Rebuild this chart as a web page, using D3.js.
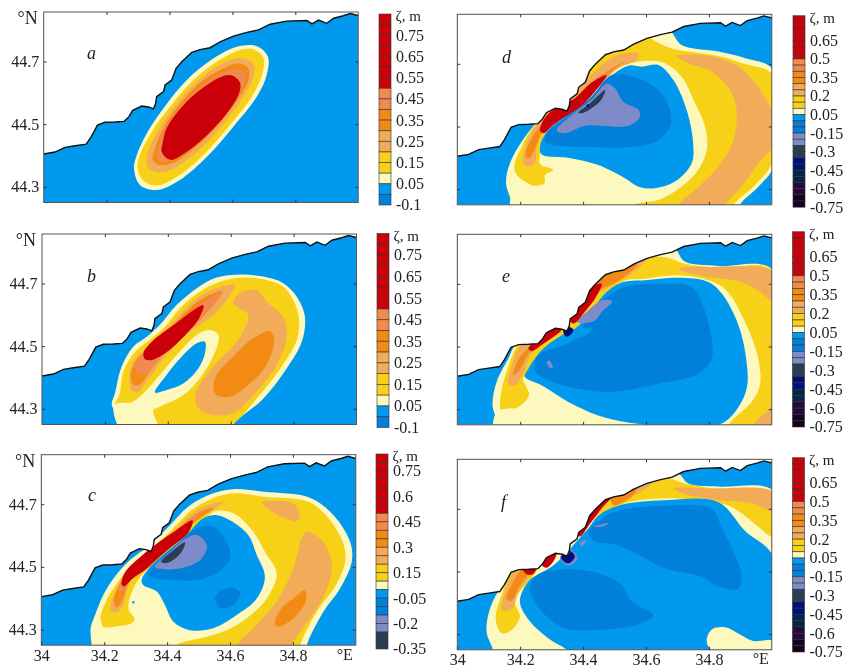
<!DOCTYPE html>
<html>
<head>
<meta charset="utf-8">
<script src="https://cdnjs.cloudflare.com/ajax/libs/d3/7.8.5/d3.min.js"></script>
<style>
html, body { margin: 0; padding: 0; background: #fff; }
svg { display: block; filter: blur(0.45px); font-family: "Liberation Serif", serif; fill: #222; }
</style>
</head>
<body>
<svg id="chart" width="850" height="668"></svg>
<script>
// shoreline, lon/lat (same in all six panels)
var coast = [[34.000,44.405],[34.036,44.411],[34.068,44.426],[34.100,44.431],[34.135,44.436],[34.150,44.458],[34.171,44.497],[34.195,44.506],[34.227,44.507],[34.256,44.509],[34.271,44.524],[34.283,44.544],[34.312,44.558],[34.333,44.555],[34.349,44.549],[34.356,44.566],[34.359,44.588],[34.381,44.604],[34.386,44.625],[34.407,44.641],[34.421,44.678],[34.439,44.699],[34.471,44.729],[34.497,44.738],[34.529,44.744],[34.561,44.763],[34.603,44.781],[34.646,44.793],[34.683,44.801],[34.720,44.819],[34.773,44.829],[34.837,44.831],[34.853,44.820],[34.874,44.832],[34.900,44.822],[34.922,44.838],[34.953,44.846],[34.975,44.853],[35.001,44.846]];

// each contour is [zeta of the band, lon/lat outline], painted in order
var contoursA = [
  [0.05, [[34.287,44.359],[34.296,44.402],[34.328,44.471],[34.381,44.551],[34.455,44.641],[34.540,44.710],[34.614,44.747],[34.678,44.749],[34.713,44.715],[34.709,44.657],[34.678,44.588],[34.603,44.492],[34.519,44.396],[34.433,44.322],[34.359,44.290],[34.306,44.306]]],
  [0.15, [[34.298,44.364],[34.306,44.402],[34.344,44.476],[34.402,44.556],[34.471,44.636],[34.550,44.699],[34.625,44.737],[34.672,44.737],[34.699,44.710],[34.694,44.657],[34.662,44.588],[34.593,44.498],[34.508,44.402],[34.423,44.332],[34.359,44.304],[34.315,44.322]]],
  [0.25, [[34.328,44.396],[34.359,44.471],[34.423,44.566],[34.487,44.636],[34.561,44.689],[34.625,44.710],[34.665,44.694],[34.667,44.652],[34.635,44.588],[34.561,44.487],[34.476,44.402],[34.402,44.354],[34.354,44.348],[34.330,44.364]]],
  [0.35, [[34.349,44.407],[34.381,44.487],[34.444,44.577],[34.508,44.641],[34.571,44.678],[34.619,44.694],[34.651,44.678],[34.651,44.641],[34.619,44.582],[34.550,44.492],[34.471,44.417],[34.407,44.375],[34.365,44.370],[34.347,44.386]]],
  [0.45, [[34.362,44.417],[34.386,44.487],[34.450,44.572],[34.513,44.630],[34.577,44.668],[34.619,44.676],[34.640,44.660],[34.640,44.636],[34.609,44.577],[34.540,44.492],[34.466,44.423],[34.407,44.386],[34.375,44.380],[34.359,44.396]]],
  [0.6, [[34.377,44.433],[34.391,44.487],[34.455,44.572],[34.519,44.625],[34.571,44.654],[34.603,44.654],[34.625,44.630],[34.619,44.593],[34.582,44.534],[34.519,44.465],[34.455,44.412],[34.407,44.386],[34.386,44.396],[34.374,44.417]]]
];

var contoursB = [
  [0.05, [[34.261,44.250],[34.222,44.312],[34.232,44.349],[34.253,44.434],[34.290,44.498],[34.333,44.530],[34.375,44.568],[34.428,44.631],[34.492,44.685],[34.555,44.719],[34.630,44.729],[34.704,44.722],[34.767,44.701],[34.810,44.658],[34.836,44.594],[34.826,44.514],[34.778,44.429],[34.704,44.333],[34.608,44.248],[34.608,44.230],[34.261,44.230]]],
  [0.15, [[34.246,44.344],[34.259,44.419],[34.296,44.482],[34.343,44.520],[34.386,44.557],[34.444,44.626],[34.502,44.674],[34.566,44.706],[34.640,44.719],[34.714,44.711],[34.767,44.690],[34.799,44.647],[34.817,44.589],[34.810,44.520],[34.762,44.435],[34.688,44.339],[34.603,44.250],[34.502,44.227],[34.370,44.227],[34.269,44.248],[34.232,44.312]]],
  [0.05, [[34.237,44.317],[34.285,44.321],[34.322,44.349],[34.365,44.397],[34.428,44.472],[34.492,44.536],[34.534,44.552],[34.561,44.536],[34.555,44.493],[34.513,44.413],[34.449,44.344],[34.375,44.307],[34.354,44.296],[34.367,44.250],[34.365,44.222],[34.259,44.222],[34.227,44.304]]],
  [-0.02, [[34.359,44.352],[34.396,44.408],[34.444,44.466],[34.492,44.509],[34.518,44.514],[34.518,44.477],[34.497,44.429],[34.449,44.381],[34.396,44.360]]],
  [0.25, [[34.278,44.387],[34.290,44.450],[34.343,44.504],[34.418,44.578],[34.492,44.653],[34.555,44.685],[34.614,44.695],[34.603,44.669],[34.545,44.599],[34.471,44.546],[34.396,44.472],[34.333,44.387],[34.301,44.352],[34.285,44.360]]],
  [0.35, [[34.282,44.403],[34.301,44.456],[34.354,44.504],[34.428,44.578],[34.502,44.647],[34.571,44.674],[34.545,44.631],[34.487,44.568],[34.418,44.509],[34.343,44.419],[34.312,44.378],[34.290,44.378]]],
  [0.45, [[34.296,44.440],[34.333,44.482],[34.396,44.541],[34.471,44.605],[34.524,44.647],[34.575,44.674],[34.555,44.647],[34.502,44.589],[34.439,44.530],[34.375,44.461],[34.333,44.413],[34.306,44.413]]],
  [0.6, [[34.323,44.480],[34.350,44.515],[34.415,44.565],[34.513,44.631],[34.500,44.590],[34.455,44.535],[34.395,44.480],[34.345,44.455],[34.326,44.460]]],
  [0.25, [[34.487,44.328],[34.492,44.360],[34.545,44.435],[34.619,44.514],[34.656,44.599],[34.608,44.637],[34.630,44.669],[34.683,44.679],[34.714,44.642],[34.767,44.594],[34.778,44.525],[34.746,44.440],[34.683,44.355],[34.608,44.286],[34.545,44.280],[34.502,44.296]]],
  [0.35, [[34.545,44.365],[34.555,44.408],[34.608,44.466],[34.672,44.525],[34.725,44.548],[34.738,44.520],[34.714,44.440],[34.656,44.376],[34.598,44.339],[34.555,44.344]]]
];

var contoursC = [
  [0.05, [[34.160,44.249],[34.157,44.304],[34.171,44.346],[34.197,44.410],[34.234,44.469],[34.282,44.522],[34.346,44.570],[34.409,44.633],[34.473,44.697],[34.547,44.735],[34.611,44.748],[34.706,44.740],[34.854,44.721],[34.929,44.665],[34.982,44.580],[34.987,44.516],[34.950,44.431],[34.897,44.357],[34.844,44.249],[34.844,44.224],[34.160,44.224]]],
  [0.15, [[34.190,44.325],[34.208,44.394],[34.245,44.453],[34.287,44.506],[34.340,44.548],[34.409,44.612],[34.478,44.681],[34.558,44.724],[34.621,44.735],[34.706,44.724],[34.849,44.708],[34.913,44.655],[34.960,44.575],[34.966,44.516],[34.934,44.437],[34.876,44.357],[34.823,44.249],[34.823,44.224],[34.293,44.224]]],
  [0.05, [[34.234,44.309],[34.287,44.320],[34.296,44.333],[34.277,44.367],[34.293,44.431],[34.324,44.479],[34.377,44.522],[34.441,44.580],[34.526,44.660],[34.558,44.679],[34.611,44.671],[34.674,44.612],[34.711,44.548],[34.748,44.479],[34.717,44.399],[34.653,44.336],[34.589,44.298],[34.526,44.277],[34.430,44.249],[34.430,44.224],[34.176,44.224],[34.176,44.298]]],
  [-0.02, [[34.319,44.458],[34.346,44.500],[34.399,44.548],[34.462,44.602],[34.515,44.655],[34.558,44.665],[34.600,44.649],[34.658,44.602],[34.685,44.538],[34.711,44.469],[34.685,44.399],[34.621,44.346],[34.547,44.304],[34.473,44.298],[34.420,44.325],[34.393,44.378],[34.367,44.421],[34.324,44.442]]],
  [-0.1, [[34.340,44.474],[34.377,44.522],[34.441,44.580],[34.494,44.623],[34.547,44.628],[34.589,44.580],[34.600,44.527],[34.563,44.484],[34.494,44.458],[34.420,44.458],[34.367,44.463]]],
  [-0.1, [[34.552,44.399],[34.573,44.426],[34.611,44.433],[34.632,44.415],[34.616,44.383],[34.573,44.367]]],
  [-0.2, [[34.361,44.500],[34.399,44.538],[34.452,44.586],[34.494,44.602],[34.526,44.570],[34.510,44.527],[34.462,44.500],[34.399,44.492]]],
  [-0.3, [[34.381,44.516],[34.414,44.548],[34.457,44.578],[34.446,44.548],[34.414,44.518],[34.388,44.512]]],
  [0.25, [[34.220,44.362],[34.240,44.431],[34.282,44.484],[34.346,44.543],[34.420,44.612],[34.494,44.681],[34.579,44.708],[34.547,44.681],[34.494,44.655],[34.430,44.607],[34.367,44.548],[34.314,44.495],[34.277,44.442],[34.261,44.378],[34.240,44.355]]],
  [0.35, [[34.231,44.389],[34.245,44.437],[34.287,44.490],[34.351,44.546],[34.420,44.607],[34.505,44.676],[34.547,44.687],[34.505,44.655],[34.441,44.607],[34.367,44.548],[34.308,44.495],[34.277,44.447],[34.255,44.389],[34.240,44.371]]],
  [0.45, [[34.242,44.429],[34.287,44.490],[34.356,44.550],[34.430,44.617],[34.505,44.671],[34.489,44.649],[34.430,44.607],[34.367,44.554],[34.308,44.500],[34.277,44.453],[34.259,44.421]]],
  [0.6, [[34.255,44.447],[34.268,44.485],[34.322,44.538],[34.375,44.580],[34.430,44.618],[34.481,44.648],[34.468,44.610],[34.415,44.565],[34.372,44.528],[34.330,44.490],[34.292,44.464],[34.262,44.438]]],
  [0.25, [[34.621,44.249],[34.674,44.304],[34.748,44.389],[34.801,44.495],[34.833,44.602],[34.849,44.612],[34.891,44.586],[34.923,44.516],[34.913,44.442],[34.876,44.367],[34.823,44.293],[34.796,44.249],[34.796,44.224],[34.621,44.224]]],
  [0.25, [[34.701,44.706],[34.738,44.710],[34.801,44.703],[34.820,44.676],[34.814,44.646],[34.770,44.657],[34.727,44.681]]],
  [0.35, [[34.743,44.325],[34.764,44.367],[34.801,44.399],[34.838,44.424],[34.842,44.394],[34.812,44.346],[34.770,44.314],[34.748,44.311]]],
  [-0.02, [[34.290,44.390],[34.296,44.390],[34.296,44.384],[34.290,44.384]]]
];

var contoursD = [
  [0.05, [[34.175,44.250],[34.155,44.319],[34.167,44.382],[34.205,44.452],[34.250,44.512],[34.300,44.580],[34.353,44.600],[34.395,44.650],[34.427,44.710],[34.491,44.760],[34.576,44.790],[34.629,44.800],[34.676,44.805],[34.713,44.760],[34.830,44.739],[34.915,44.718],[35.005,44.680],[35.005,44.372],[34.957,44.308],[34.899,44.250],[34.899,44.223],[34.175,44.223]]],
  [0.15, [[34.186,44.350],[34.205,44.436],[34.258,44.520],[34.321,44.585],[34.358,44.600],[34.395,44.650],[34.427,44.705],[34.491,44.755],[34.576,44.785],[34.600,44.790],[34.629,44.772],[34.682,44.749],[34.830,44.725],[34.915,44.699],[35.005,44.664],[35.005,44.393],[34.947,44.313],[34.878,44.248],[34.878,44.223],[34.576,44.223]]],
  [0.05, [[34.305,44.361],[34.263,44.380],[34.263,44.409],[34.279,44.478],[34.332,44.531],[34.406,44.585],[34.470,44.654],[34.533,44.696],[34.597,44.709],[34.660,44.702],[34.713,44.659],[34.756,44.574],[34.788,44.499],[34.793,44.425],[34.766,44.361],[34.713,44.308],[34.639,44.265],[34.560,44.248],[34.560,44.223],[34.175,44.223],[34.181,44.308],[34.199,44.324],[34.236,44.311],[34.277,44.319],[34.279,44.345]]],
  [-0.02, [[34.268,44.411],[34.263,44.436],[34.284,44.483],[34.342,44.531],[34.417,44.585],[34.480,44.654],[34.544,44.694],[34.586,44.691],[34.639,44.696],[34.687,44.648],[34.729,44.553],[34.750,44.446],[34.745,44.382],[34.692,44.324],[34.629,44.303],[34.576,44.308],[34.533,44.335],[34.448,44.377],[34.364,44.398]]],
  [-0.1, [[34.279,44.452],[34.289,44.483],[34.353,44.531],[34.427,44.595],[34.491,44.664],[34.576,44.654],[34.639,44.616],[34.676,44.553],[34.676,44.499],[34.629,44.451],[34.533,44.433],[34.406,44.435],[34.311,44.439]]],
  [-0.2, [[34.316,44.489],[34.364,44.537],[34.427,44.585],[34.475,44.636],[34.501,44.622],[34.528,44.579],[34.576,44.553],[34.581,44.531],[34.544,44.502],[34.406,44.502],[34.353,44.481],[34.326,44.480]]],
  [-0.3, [[34.385,44.544],[34.422,44.574],[34.470,44.616],[34.459,44.587],[34.427,44.558],[34.395,44.542]]],
  [-0.4, [[34.410,44.566],[34.416,44.572],[34.420,44.566],[34.414,44.562]]],
  [0.25, [[34.210,44.382],[34.220,44.446],[34.263,44.520],[34.332,44.570],[34.369,44.600],[34.427,44.665],[34.501,44.725],[34.576,44.733],[34.570,44.712],[34.512,44.686],[34.448,44.627],[34.395,44.574],[34.321,44.529],[34.273,44.483],[34.252,44.430],[34.247,44.382],[34.226,44.372]]],
  [0.35, [[34.217,44.409],[34.231,44.451],[34.268,44.505],[34.332,44.555],[34.374,44.590],[34.438,44.650],[34.533,44.707],[34.491,44.675],[34.438,44.622],[34.379,44.569],[34.321,44.531],[34.273,44.487],[34.247,44.430],[34.228,44.398]]],
  [0.45, [[34.261,44.495],[34.321,44.555],[34.374,44.590],[34.438,44.650],[34.485,44.675],[34.438,44.616],[34.374,44.563],[34.316,44.529],[34.273,44.487]]],
  [0.6, [[34.263,44.487],[34.284,44.535],[34.337,44.570],[34.374,44.590],[34.427,44.640],[34.475,44.664],[34.438,44.612],[34.390,44.562],[34.342,44.530],[34.305,44.505],[34.273,44.478]]],
  [0.25, [[34.697,44.725],[34.809,44.723],[34.899,44.688],[34.952,44.632],[34.989,44.574],[35.005,44.542],[35.005,44.441],[34.957,44.382],[34.904,44.308],[34.851,44.248],[34.851,44.223],[34.697,44.223],[34.703,44.250],[34.756,44.297],[34.830,44.372],[34.878,44.457],[34.888,44.553],[34.867,44.616],[34.809,44.675],[34.735,44.702]]]
];

var contoursE = [
  [0.05, [[34.130,44.248],[34.112,44.312],[34.125,44.387],[34.162,44.461],[34.190,44.510],[34.258,44.525],[34.316,44.585],[34.353,44.600],[34.406,44.680],[34.459,44.750],[34.554,44.785],[34.660,44.805],[34.690,44.815],[34.722,44.772],[34.830,44.757],[35.005,44.743],[35.005,44.206],[34.130,44.206]]],
  [0.15, [[34.139,44.349],[34.157,44.419],[34.199,44.510],[34.258,44.525],[34.316,44.575],[34.353,44.590],[34.406,44.670],[34.459,44.740],[34.554,44.775],[34.660,44.785],[34.724,44.764],[34.830,44.751],[35.005,44.740],[35.005,44.206],[34.152,44.206],[34.136,44.302]]],
  [0.05, [[34.125,44.291],[34.162,44.302],[34.189,44.304],[34.228,44.344],[34.210,44.399],[34.242,44.419],[34.406,44.568],[34.523,44.706],[34.597,44.716],[34.703,44.727],[34.798,44.711],[34.856,44.679],[34.915,44.578],[34.957,44.461],[34.962,44.376],[34.936,44.323],[34.862,44.248],[34.862,44.206],[34.125,44.206]]],
  [-0.02, [[34.215,44.403],[34.226,44.429],[34.268,44.488],[34.332,44.536],[34.374,44.557],[34.417,44.599],[34.470,44.669],[34.523,44.704],[34.597,44.711],[34.703,44.719],[34.798,44.706],[34.841,44.669],[34.894,44.568],[34.920,44.450],[34.920,44.365],[34.883,44.291],[34.830,44.250],[34.639,44.248],[34.533,44.259],[34.448,44.280],[34.353,44.323],[34.268,44.376]]],
  [-0.1, [[34.247,44.424],[34.258,44.472],[34.369,44.520],[34.427,44.610],[34.491,44.669],[34.533,44.690],[34.639,44.700],[34.745,44.690],[34.777,44.642],[34.809,44.525],[34.809,44.461],[34.766,44.413],[34.639,44.381],[34.491,44.355],[34.385,44.365],[34.289,44.392]]],
  [-0.02, [[34.358,44.525],[34.390,44.555],[34.427,44.557],[34.417,44.541],[34.374,44.523]]],
  [-0.2, [[34.379,44.578],[34.417,44.615],[34.459,44.647],[34.493,44.644],[34.459,44.610],[34.438,44.583],[34.395,44.575]]],
  [-0.2, [[34.284,44.450],[34.292,44.456],[34.304,44.431],[34.296,44.431]]],
  [-0.4, [[34.337,44.548],[34.353,44.562],[34.369,44.554],[34.364,44.541],[34.348,44.531]]],
  [0.25, [[34.162,44.381],[34.171,44.429],[34.199,44.500],[34.250,44.515],[34.225,44.456],[34.210,44.413],[34.183,44.376]]],
  [0.35, [[34.178,44.408],[34.199,44.466],[34.236,44.498],[34.215,44.456],[34.194,44.419]]],
  [0.6, [[34.226,44.495],[34.258,44.525],[34.284,44.560],[34.321,44.575],[34.332,44.555],[34.305,44.530],[34.268,44.505],[34.236,44.485]]],
  [0.25, [[34.417,44.680],[34.459,44.745],[34.554,44.780],[34.610,44.790],[34.565,44.740],[34.507,44.704],[34.459,44.679]]],
  [0.35, [[34.417,44.675],[34.459,44.735],[34.554,44.770],[34.573,44.765],[34.507,44.706],[34.459,44.685],[34.427,44.665]]],
  [0.6, [[34.358,44.585],[34.390,44.645],[34.427,44.690],[34.459,44.700],[34.438,44.653],[34.406,44.612],[34.369,44.573]]],
  [0.25, [[34.703,44.748],[34.798,44.754],[35.005,44.738],[35.005,44.647],[34.947,44.685],[34.883,44.711],[34.798,44.722],[34.735,44.735]]],
  [0.25, [[34.941,44.248],[34.989,44.296],[35.005,44.307],[35.005,44.206],[34.941,44.206]]]
];

var contoursF = [
  [0.05, [[34.114,44.248],[34.093,44.308],[34.104,44.382],[34.141,44.457],[34.175,44.510],[34.258,44.525],[34.279,44.550],[34.321,44.585],[34.353,44.595],[34.369,44.630],[34.427,44.715],[34.491,44.765],[34.576,44.790],[34.660,44.810],[34.700,44.815],[34.735,44.781],[34.830,44.771],[35.005,44.757],[35.005,44.542],[35.005,44.223],[34.114,44.223]]],
  [0.15, [[34.122,44.350],[34.141,44.425],[34.173,44.500],[34.215,44.520],[34.258,44.520],[34.236,44.478],[34.199,44.436],[34.183,44.404],[34.199,44.356],[34.173,44.313],[34.141,44.303]]],
  [0.15, [[34.364,44.620],[34.427,44.710],[34.491,44.755],[34.576,44.785],[34.660,44.800],[34.724,44.781],[34.830,44.763],[35.005,44.749],[35.005,44.611],[34.957,44.643],[34.904,44.686],[34.851,44.714],[34.660,44.734],[34.533,44.718],[34.501,44.702],[34.448,44.680],[34.395,44.622]]],
  [-0.02, [[34.353,44.244],[34.289,44.287],[34.231,44.340],[34.199,44.404],[34.226,44.468],[34.263,44.494],[34.300,44.515],[34.342,44.553],[34.374,44.590],[34.417,44.638],[34.448,44.678],[34.512,44.710],[34.660,44.727],[34.830,44.721],[34.915,44.629],[35.005,44.547],[35.005,44.223],[34.353,44.223]]],
  [-0.1, [[34.417,44.622],[34.459,44.670],[34.523,44.696],[34.660,44.710],[34.809,44.699],[34.841,44.638],[34.878,44.563],[34.904,44.489],[34.894,44.446],[34.830,44.451],[34.777,44.483],[34.660,44.510],[34.576,44.553],[34.501,44.587],[34.438,44.595]]],
  [-0.1, [[34.231,44.451],[34.258,44.491],[34.353,44.508],[34.448,44.494],[34.523,44.457],[34.554,44.404],[34.623,44.361],[34.586,44.335],[34.448,44.313],[34.342,44.319],[34.279,44.361],[34.242,44.414]]],
  [0.05, [[34.793,44.278],[34.809,44.315],[34.851,44.322],[34.899,44.299],[34.941,44.278],[35.005,44.278],[35.005,44.250],[34.809,44.250]]],
  [0.25, [[34.143,44.377],[34.152,44.436],[34.185,44.505],[34.247,44.525],[34.225,44.478],[34.195,44.436],[34.175,44.382]]],
  [0.35, [[34.157,44.414],[34.167,44.446],[34.205,44.505],[34.230,44.505],[34.195,44.448],[34.172,44.406]]],
  [0.6, [[34.205,44.520],[34.255,44.525],[34.240,44.491],[34.220,44.491]]],
  [0.6, [[34.270,44.520],[34.289,44.565],[34.321,44.585],[34.310,44.540],[34.284,44.512]]],
  [0.25, [[34.480,44.760],[34.590,44.790],[34.620,44.785],[34.560,44.740],[34.500,44.712]]],
  [0.35, [[34.491,44.765],[34.576,44.785],[34.560,44.745],[34.496,44.712]]],
  [0.6, [[34.372,44.625],[34.410,44.700],[34.459,44.745],[34.500,44.750],[34.462,44.705],[34.420,44.650],[34.390,44.612]]],
  [0.25, [[34.687,44.765],[34.798,44.765],[35.005,44.753],[35.005,44.694],[34.936,44.718],[34.830,44.728],[34.735,44.744]]],
  [-0.2, [[34.326,44.542],[34.353,44.572],[34.383,44.544],[34.353,44.519]]],
  [-0.4, [[34.330,44.544],[34.353,44.568],[34.374,44.548],[34.353,44.526]]],
  [0.05, [[34.350,44.564],[34.356,44.564],[34.356,44.558],[34.350,44.558]]],
  [-0.2, [[34.432,44.643],[34.459,44.651],[34.483,44.654],[34.459,44.643]]],
  [-0.2, [[34.390,44.592],[34.410,44.600],[34.396,44.580]]]
];

// colour bars: zeta of each cell from the top, and the labels from the bottom up
var cellsCommon = [0.6,0.6,0.6,0.6,0.6,0.6,0.6,0.45,0.45,0.35,0.35,0.25,0.25,0.15,0.15,0.05];
var cellsAB = cellsCommon.concat([-0.02,-0.1]);
var cellsC = cellsCommon.concat([-0.02,-0.1,-0.1,-0.2,-0.2,-0.3,-0.3]);
var cellsDEF = cellsCommon.concat([-0.02,-0.1,-0.1,-0.2,-0.2,-0.3,-0.3,-0.4,-0.4,-0.5,-0.5,-0.6,-0.6,-0.7,-0.7]);
var barLabelsAB = ["-0.1","0.05","0.15","0.25","0.35","0.45","0.55","0.65","0.75"];
var barLabelsC = ["-0.35","-0.2","-0.05","0.15","0.3","0.45","0.6","0.75"];
var barLabelsDEF = ["-0.75","-0.6","-0.45","-0.3","-0.15","0.05","0.2","0.35","0.5","0.65"];

var lonTicks = [34, 34.2, 34.4, 34.6, 34.8];
var latTicks = [44.3, 44.5, 44.7];
var lonDomain = [34, 35];
var latDomain = [44.25, 44.858];

var bandEdges = [-0.65, -0.55, -0.45, -0.35, -0.25, -0.15, -0.05, 0, 0.1, 0.2, 0.3, 0.4, 0.5];
var bandColors = ["#15001f", "#25083f", "#00254a", "#00107a", "#2a3d55", "#7e8bc8", "#0080d8", "#0099ee",
    "#fdf8be", "#f7d117", "#f2ab58", "#f28a14", "#f08a4e", "#cc0008"];
var color = d3.scaleThreshold().domain(bandEdges).range(bandColors);
var seaBand = -0.02;

var panelWidth = 314.5, panelHeight = 190.5, barWidth = 12;
var xScale = d3.scaleLinear().domain(lonDomain).range([0, panelWidth]);
var yScale = d3.scaleLinear().domain(latDomain).range([panelHeight, 0]);

var outline = d3.line().x(function(d) { return xScale(d[0]); }).y(function(d) { return yScale(d[1]); });
var smooth = d3.line().x(function(d) { return xScale(d[0]); }).y(function(d) { return yScale(d[1]); })
    .curve(d3.curveCatmullRomClosed.alpha(0.5));

var panels = [
    { id: "a", x: 43.7, y: 12, contours: contoursA, cells: cellsAB, labels: barLabelsAB, step: 2, barX: 379, barY: 14, barH: 191, letterX: 87, letterY: 59, left: true, bottom: false, northY: 24 },
    { id: "b", x: 42, y: 234, contours: contoursB, cells: cellsAB, labels: barLabelsAB, step: 2, barX: 377, barY: 233.5, barH: 194, letterX: 87, letterY: 282, left: true, bottom: false, northY: 245.5 },
    { id: "c", x: 41.3, y: 454.7, contours: contoursC, cells: cellsC, labels: barLabelsC, step: 3, barX: 376, barY: 454, barH: 195, letterX: 88, letterY: 501, left: true, bottom: true, northY: 466.5 },
    { id: "d", x: 457.3, y: 14.3, contours: contoursD, cells: cellsDEF, labels: barLabelsDEF, step: 3, barX: 793, barY: 15.7, barH: 191.5, letterX: 502, letterY: 63, left: false, bottom: false },
    { id: "e", x: 457.3, y: 234.3, contours: contoursE, cells: cellsDEF, labels: barLabelsDEF, step: 3, barX: 792.5, barY: 231.7, barH: 195.3, letterX: 502, letterY: 282, left: false, bottom: false },
    { id: "f", x: 457.3, y: 459.3, contours: contoursF, cells: cellsDEF, labels: barLabelsDEF, step: 3, barX: 792.5, barY: 457.7, barH: 194.3, letterX: 501, letterY: 508, left: false, bottom: true }
];

var svg = d3.select("#chart");

function drawPanel(p) {
    var g = svg.append("g").attr("transform", "translate(" + p.x + "," + p.y + ")");
    svg.append("clipPath").attr("id", "clip-" + p.id)
        .append("rect").attr("width", panelWidth).attr("height", panelHeight);
    var body = g.append("g").attr("clip-path", "url(#clip-" + p.id + ")");

    body.append("rect").attr("width", panelWidth).attr("height", panelHeight)
        .attr("fill", color(seaBand));
    body.selectAll("path.band").data(p.contours).enter().append("path")
        .attr("class", "band")
        .attr("d", function(d) { return smooth(d[1]); })
        .attr("fill", function(d) { return color(d[0]); });

    // land goes on top so it masks anything crossing the shore
    var land = coast.concat([[lonDomain[1], latDomain[1]], [lonDomain[0], latDomain[1]]]);
    body.append("path").attr("d", outline(land) + "Z").attr("fill", "#fff");
    body.append("path").attr("d", outline(coast)).attr("fill", "none")
        .attr("stroke", "#111").attr("stroke-width", 1.4);

    g.append("rect").attr("width", panelWidth).attr("height", panelHeight)
        .attr("fill", "none").attr("stroke", "#555").attr("stroke-width", 1);

    var inner = lonTicks.slice(1);
    drawAxis(g, d3.axisTop(xScale).tickValues(inner).tickFormat(""), 0, 0);
    drawAxis(g, d3.axisRight(yScale).tickValues(latTicks).tickFormat(""), panelWidth, 0);
    var bottomAxis = d3.axisBottom(xScale).tickValues(p.bottom ? lonTicks : inner).tickPadding(4)
        .tickFormat(p.bottom ? function(d) { return d == 34 ? "34" : d3.format(".1f")(d); } : "");
    drawAxis(g, bottomAxis, 0, panelHeight);
    var leftAxis = d3.axisLeft(yScale).tickValues(latTicks).tickPadding(4.5)
        .tickFormat(p.left ? d3.format(".1f") : "");
    drawAxis(g, leftAxis, 0, 0);

    svg.append("text").attr("x", p.letterX).attr("y", p.letterY)
        .attr("font-size", 18).attr("font-style", "italic").text(p.id);
    if (p.left) {
        svg.append("text").attr("x", p.x - 6).attr("y", p.northY).attr("text-anchor", "end")
            .attr("font-size", 18).text("\u00b0N");
    }
    if (p.bottom) {
        svg.append("text").attr("x", p.x + panelWidth - 11).attr("y", p.y + panelHeight + 14.5)
            .attr("text-anchor", "middle").attr("font-size", 16).text("\u00b0E");
    }
}

function drawAxis(g, axis, dx, dy) {
    var a = g.append("g").attr("transform", "translate(" + dx + "," + dy + ")")
        .call(axis.tickSize(-3).tickSizeOuter(0));
    a.select(".domain").remove();
    a.selectAll("line").attr("stroke", "#333");
    a.selectAll("text").attr("font-size", 16).attr("font-family", "Liberation Serif").attr("fill", "#222");
}

function drawBar(p) {
    var n = p.cells.length;
    var y = d3.scaleLinear().domain([0, n]).range([p.barY, p.barY + p.barH]);
    var g = svg.append("g");
    g.selectAll("rect").data(p.cells).enter().append("rect")
        .attr("x", p.barX).attr("width", barWidth)
        .attr("y", function(d, i) { return y(i); })
        .attr("height", function(d, i) { return y(i + 1) - y(i); })
        .attr("fill", function(d) { return color(d); })
        .attr("stroke", "#333").attr("stroke-opacity", 0.75).attr("stroke-width", 0.8);
    g.selectAll("text").data(p.labels).enter().append("text")
        .attr("x", p.barX + barWidth + 5)
        .attr("y", function(d, i) { return y(n - i * p.step); })
        .attr("dy", "0.34em").attr("font-size", 16)
        .text(function(d) { return d; });
    svg.append("text").attr("x", p.barX + barWidth + 4.5).attr("y", p.barY + 7)
        .attr("font-size", 15).text("\u03b6, m");
}

panels.forEach(function(p) {
    drawPanel(p);
    drawBar(p);
});
</script>
</body>
</html>
